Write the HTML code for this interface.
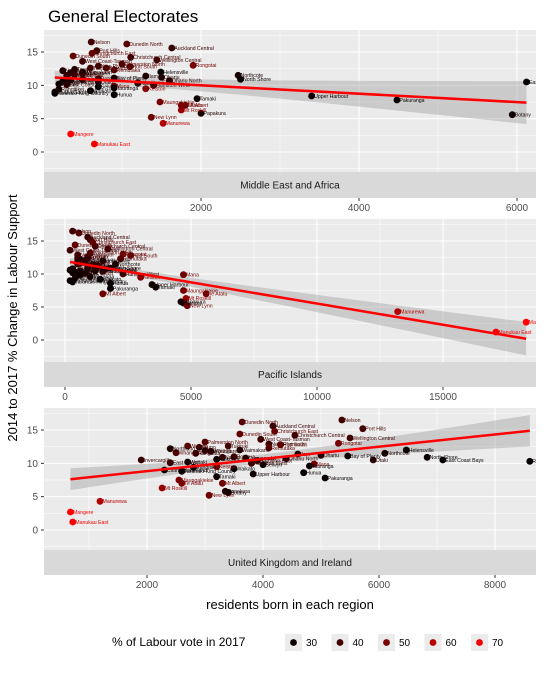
<!DOCTYPE html>
<html><head><meta charset="utf-8"><style>
body{margin:0;background:#fff;font-family:"Liberation Sans",sans-serif}
svg text{font-family:"Liberation Sans",sans-serif}
</style></head><body>
<svg id="chart" width="556" height="672" xmlns="http://www.w3.org/2000/svg">
<text x="48" y="22" font-size="17" fill="#000">General Electorates</text>
<text transform="translate(17,318) rotate(-90)" text-anchor="middle" font-size="13" fill="#000">2014 to 2017 % Change in Labour Support</text>
<text x="290" y="609" text-anchor="middle" font-size="13" fill="#000">residents born in each region</text>
<g id="panels"></g>
<g id="legend"></g>
</svg>
<script>
const names=["Nelson","Dunedin North","Auckland Central","Port Hills","Dunedin South","Christchurch East","Christchurch Central","West Coast-Tasman","Wellington Central","Rongotai","Helensville","Northcote","North Shore","East Coast Bays","Botany","Rodney","Upper Harbour","Pakuranga","Papakura","Maungakiekie","Mt Roskill","Mt Albert","Tamaki","New Lynn","Manurewa","Mangere","Manukau East","Hamilton West","Mana","Invercargill","Wigram","Rangitata","Bay of Plenty","Otaki","Te Atatu","Whangarei","Northland","Coromandel","Tauranga","Rotorua","Taupo","Waikato","Hamilton East","Hutt South","Ohariu","Kaikoura","Selwyn","Waimakariri","Clutha-Southland","Waitaki","Ilam","Tukituki","Napier","Palmerston North","Rangitikei","Whanganui","New Plymouth","Taranaki-King Country","East Coast","Hunua","Wairarapa","Kelston","Remutaka","Ohariu North"];
const change=[16.5,16.2,15.6,15.2,14.4,14.8,14.2,13.6,13.8,13.0,12.0,11.5,10.9,10.5,5.6,10.3,8.4,7.8,5.8,7.5,6.3,7.0,8.0,5.2,4.3,2.7,1.2,10.0,9.9,10.5,12.6,11.5,11.1,10.5,7.0,11.8,12.2,10.8,9.6,11.0,12.4,9.2,10.4,12.8,11.2,10.6,9.8,12.0,9.0,10.2,11.4,12.6,10.9,13.2,9.4,11.6,12.9,8.8,10.1,8.6,11.9,9.5,12.3,10.7];
const vote=[40,44,38,40,46,47,40,40,40,50,28,32,28,28,30,28,30,28,32,50,55,48,30,48,60,72,70,40,48,38,45,38,30,35,50,36,34,32,30,40,36,28,38,46,34,30,28,34,28,30,34,40,38,44,32,42,40,28,38,28,36,52,44,36];
const mea=[610,1060,1630,680,380,620,1110,500,1440,1900,1490,2470,2500,6120,5940,1200,3400,4480,2000,1480,1750,1800,1950,1370,1520,350,650,1400,900,300,800,300,900,700,1750,500,250,350,900,700,400,600,1200,1100,1500,250,700,500,150,200,1300,600,500,1000,200,400,700,150,300,900,350,1300,900,1600];
const pac=[300,550,900,1000,400,1100,1200,200,1700,2300,1500,2000,1800,1200,4700,500,3450,1800,4600,4700,4800,1500,3600,4850,13200,18300,17100,2300,4700,300,900,500,900,600,5600,700,600,300,1000,1200,500,1400,1500,2600,1300,200,600,800,200,300,1100,900,900,1000,400,600,500,300,800,1800,500,3000,2200,1600];
const uk=[5360,3640,4170,5720,3600,4200,4550,3960,5500,5300,6470,6100,6830,7100,3400,8600,3830,5070,3350,2550,2260,3300,3200,3070,1190,680,720,3800,4880,1900,2700,2840,5460,5900,2600,3100,2400,3700,4800,3500,2900,3500,3900,4300,5000,3200,4000,3600,2300,2700,4600,3400,3300,3000,2800,2500,4100,2600,2400,4700,3000,3200,4100,4400];
const tickMea=[2000,4000,6000],tickPac=[0,5000,10000,15000],tickUk=[2000,4000,6000,8000];
const yTicks=[0,5,10,15];
const legendVals=[30,40,50,60,70];

const NS="http://www.w3.org/2000/svg";
function mk(tag,attrs,parent){const e=document.createElementNS(NS,tag);for(const k in attrs)e.setAttribute(k,attrs[k]);parent.appendChild(e);return e;}
function col(v){let t=Math.max(0,Math.min(1,(v-26)/(72-26)));return `rgb(${Math.round(255*Math.pow(t,1.15))},0,0)`;}
const panels=[
 {vals:mea,ticks:tickMea,minor:[1000,3000,5000],top:30,bot:172,strip:198,y15:52,y0:152,xf:v=>201+(v-2000)*0.079,title:"Middle East and Africa",id:"middle-east-africa"},
 {vals:pac,ticks:tickPac,minor:[2500,7500,12500,17500],top:219,bot:362,strip:387,y15:241,y0:340,xf:v=>65+v*0.0252,title:"Pacific Islands",id:"pacific-islands"},
 {vals:uk,ticks:tickUk,minor:[1000,3000,5000,7000],top:408,bot:550,strip:575,y15:430,y0:530,xf:v=>147+(v-2000)*0.058,title:"United Kingdom and Ireland",id:"uk-ireland"}];
const root=document.getElementById('panels');
const L=44,R=536;
panels.forEach((p,pi)=>{
 const yf=v=>p.y0-(p.y0-p.y15)*v/15;
 const g=mk('g',{},root);
 
 
 mk('rect',{x:L,y:p.top,width:R-L,height:p.bot-p.top,fill:'#ebebeb'},g);
 const cid='clip'+pi;const cp=mk('clipPath',{id:cid},g);mk('rect',{x:L,y:p.top,width:R-L,height:p.bot-p.top},cp);
 const gg=mk('g',{'clip-path':`url(#${cid})`},g);
 [-2.5,2.5,7.5,12.5,17.5].forEach(v=>mk('line',{x1:L,x2:R,y1:yf(v),y2:yf(v),stroke:'#fff','stroke-width':0.5},gg));
 p.minor.forEach(v=>mk('line',{x1:p.xf(v),x2:p.xf(v),y1:p.top,y2:p.bot,stroke:'#fff','stroke-width':0.5},gg));
 yTicks.forEach(v=>mk('line',{x1:L,x2:R,y1:yf(v),y2:yf(v),stroke:'#fff','stroke-width':1.1},gg));
 p.ticks.forEach(v=>mk('line',{x1:p.xf(v),x2:p.xf(v),y1:p.top,y2:p.bot,stroke:'#fff','stroke-width':1.1},gg));
 // regression
 const xs=p.vals,ys=change,n=xs.length;
 const mx=xs.reduce((a,b)=>a+b)/n,my=ys.reduce((a,b)=>a+b)/n;
 let sxx=0,sxy=0;for(let i=0;i<n;i++){sxx+=(xs[i]-mx)**2;sxy+=(xs[i]-mx)*(ys[i]-my);}
 const b=sxy/sxx,a=my-b*mx;let sse=0;for(let i=0;i<n;i++)sse+=(ys[i]-a-b*xs[i])**2;
 const s=Math.sqrt(sse/(n-2));const xmin=Math.min(...xs),xmax=Math.max(...xs);
 const up=[],lo=[];for(let k=0;k<=40;k++){const x=xmin+(xmax-xmin)*k/40;const f=a+b*x;const se=s*Math.sqrt(1/n+(x-mx)**2/sxx)*2.0;up.push(p.xf(x)+','+yf(f+se));lo.unshift(p.xf(x)+','+yf(f-se));}
 const band=mk('polygon',{points:up.concat(lo).join(' '),fill:'#999','fill-opacity':0.4},gg);
 
 
 // points
 for(let i=0;i<n;i++){
  const c=mk('circle',{cx:p.xf(xs[i]),cy:yf(ys[i]),r:3.4,fill:col(vote[i])},gg);
  
  
 }
 for(let i=0;i<n;i++){
  const t=mk('text',{x:p.xf(xs[i])+2.5,y:yf(ys[i])+1.8,'font-size':5.2,fill:col(vote[i])},gg);t.textContent=names[i];
  
  
 }
 const ln=mk('line',{x1:p.xf(xmin),y1:yf(a+b*xmin),x2:p.xf(xmax),y2:yf(a+b*xmax),stroke:'#ff0000','stroke-width':2.5},gg);
 
 
 // strip
 const sr=mk('rect',{x:L,y:p.bot,width:R-L,height:p.strip-p.bot,fill:'#d9d9d9'},g);
 
 
 const st=mk('text',{x:(L+R)/2,y:(p.bot+p.strip)/2+3.5,'text-anchor':'middle','font-size':10,fill:'#1a1a1a'},g);st.textContent=p.title;
 
 
 // axes
 yTicks.forEach(v=>{mk('line',{x1:L-3,x2:L,y1:yf(v),y2:yf(v),stroke:'#333'},g);
  const t=mk('text',{x:L-6,y:yf(v)+3.5,'text-anchor':'end','font-size':10,fill:'#4d4d4d'},g);t.textContent=v;
  
  });
 p.ticks.forEach(v=>{mk('line',{x1:p.xf(v),x2:p.xf(v),y1:p.strip,y2:p.strip+3,stroke:'#333'},g);
  const t=mk('text',{x:p.xf(v),y:p.strip+13,'text-anchor':'middle','font-size':10,fill:'#4d4d4d'},g);t.textContent=v;
  
  });
});
// legend
const lg=document.getElementById('legend');
const lt=mk('text',{x:112,y:646,'font-size':12,fill:'#000'},lg);lt.textContent="% of Labour vote in 2017";
legendVals.forEach((v,i)=>{const x=285+i*46.5;
 mk('rect',{x:x,y:634,width:17,height:17,fill:'#ebebeb'},lg);
 const c=mk('circle',{cx:x+8.5,cy:642.5,r:3.4,fill:col(v)},lg);
 
 
 const t=mk('text',{x:x+21,y:646,'font-size':10,fill:'#000'},lg);t.textContent=v;
 
 });
</script>
</body></html>
